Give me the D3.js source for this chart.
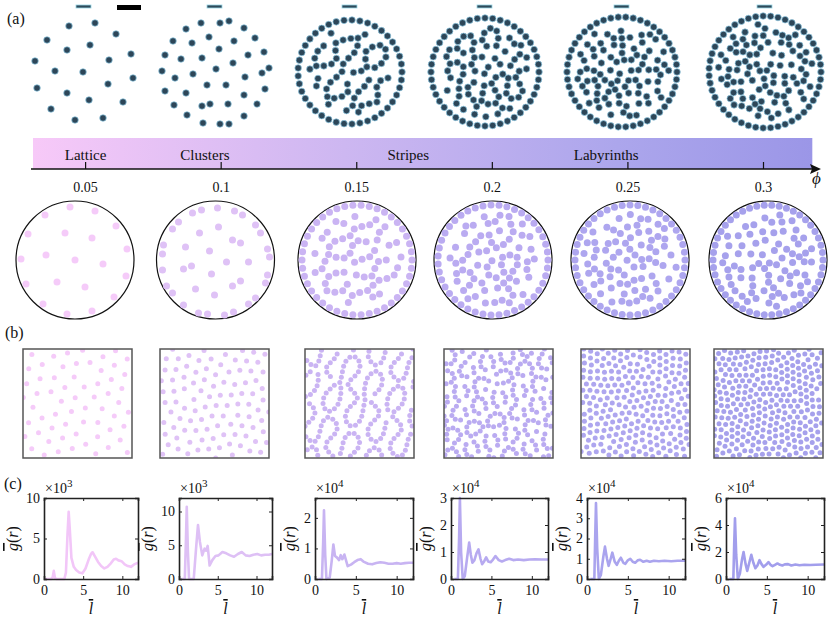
<!DOCTYPE html>
<html>
<head>
<meta charset="utf-8">
<script src="https://cdn.jsdelivr.net/npm/d3@7"></script>
<style>
  body { margin: 0; background: #fff; }
  text { font-family: "Liberation Serif", "DejaVu Serif", serif; fill: #111; }
</style>
</head>
<body>
<svg id="fig" width="831" height="625"></svg>
<script>
// ---- data ----
const phiValues = [0.05, 0.1, 0.15, 0.2, 0.25, 0.3];
const phiTickLabels = ["0.05", "0.1", "0.15", "0.2", "0.25", "0.3"];
const phaseNames = ["Lattice", "Clusters", "Stripes", "Labyrinths"];
const phasePhi = [0.05, 0.094, 0.169, 0.242];

// particle counts for the periodic boxes drawn as relaxed liquids (null = stripe texture)
const boxCounts = [62, 100, null, null, 245, 290];

// sparse snapshots (offsets from disc centre)
const expSparse = [
  [[-15,-46],[11,-49],[32,-38],[-37,-32],[-17,-22],[6,-27],[47,-18],[-49,-11],[25,-12],[-29,-1],
   [-1,0],[49,6],[-47,16],[-17,21],[24,12],[5,28],[39,30],[-33,37],[-9,48],[19,46]],
  [[-14,-49],[5,-49],[14,-51],[-29,-43],[29,-44],[-42,-31],[-23,-29],[-6,-35],[19,-31],[40,-34],
   [-50,-17],[-34,-13],[-13,-14],[4,-23],[33,-17],[49,-20],[-53,-1],[-40,6],[-22,2],[1,-3],
   [18,-9],[30,5],[47,1],[54,-4],[-50,19],[-29,21],[-8,13],[11,13],[50,17],[-41,33],
   [-13,34],[-5,32],[13,32],[29,23],[42,32],[-28,43],[-12,51],[5,52],[14,52],[29,44]]
];
const simSparse = [
  [[-5,-53],[20,-49],[-30,-45],[41,-34],[-47,-26],[-10,-27],[17,-22],[52,-11],[-54,-1],[-29,-5],
   [0,0],[28,4],[51,16],[-49,24],[-18,22],[10,27],[39,37],[-32,44],[-8,54],[17,51]],
  [[-23,-47],[-14,-50],[2,-52],[19,-49],[27,-45],[-37,-38],[-43,-31],[-16,-27],[3,-33],[40,-35],
   [45,-27],[17,-20],[25,-17],[-52,-15],[-30,-13],[-6,-9],[52,-11],[-53,-6],[54,-3],[11,2],
   [33,2],[-53,10],[-32,9],[-24,6],[-4,14],[52,15],[25,21],[17,26],[-49,26],[50,23],
   [-43,33],[-20,29],[-1,35],[40,38],[-32,45],[33,44],[-17,53],[-8,54],[9,55],[18,52]]
];

// stripe / labyrinth texture settings for the denser snapshots:
// wall ring radius, inner radius, stripe separation, spacing along a chain, waves [amp, angle, phase]
const expPattern = [null, null,
  { ring: 52, inner: 44, sep: 14, step: 7.9, waves: [[1, 35, 0.4], [0.7, 105, 1.9], [0.4, 160, 3.1]] },
  { ring: 54, inner: 46, sep: 11.5, step: 7.7, waves: [[1, 15, 1.0], [1, 75, 2.4], [0.9, 140, 0.3], [0.6, 170, 4.0]] },
  { ring: 55, inner: 47, sep: 10, step: 7.5, waves: [[1, 5, 2.2], [1, 62, 0.7], [1, 118, 3.5], [0.7, 160, 1.2]] },
  { ring: 56, inner: 48, sep: 9, step: 7.4, waves: [[1, 25, 0.9], [1, 80, 2.8], [1, 135, 1.6], [0.8, 175, 5.0]] }
];
const simPattern = [null, null,
  { ring: 55, inner: 46.5, sep: 14, step: 8.1, waves: [[1, 60, 1.1], [0.7, 130, 2.6], [0.4, 10, 0.2]] },
  { ring: 55, inner: 46.5, sep: 11.5, step: 7.9, waves: [[1, 100, 0.2], [1, 40, 2.0], [0.9, 160, 3.3], [0.5, 10, 1.4]] },
  { ring: 55, inner: 47, sep: 10, step: 7.7, waves: [[1, 20, 3.0], [1, 85, 1.2], [1, 145, 0.5], [0.7, 55, 2.2]] },
  { ring: 55, inner: 47, sep: 9, step: 7.5, waves: [[1, 0, 0.6], [1, 55, 2.3], [1, 115, 4.1], [0.8, 150, 1.0]] }
];
const boxPattern = [null, null,
  { sep: 12.5, step: 5.6, waves: [[1, 10, 0.5], [0.75, 55, 1.7], [0.5, 125, 2.9]] },
  { sep: 9.5, step: 5.4, waves: [[1, 10, 1.3], [1, 70, 0.2], [0.9, 130, 2.5], [0.6, 165, 3.8]] },
  null, null
];

// pair correlation curves, panel (c)
const grR = [
  [0,0.9,1.1,1.25,1.4,1.6,2.6,2.8,3.0,3.15,3.3,3.5,3.8,4.1,4.5,4.9,5.3,5.7,6.0,6.2,6.5,6.9,7.3,7.7,8.1,8.5,8.9,9.2,9.5,9.9,10.3,10.7,11.1,11.5,12],
  [0.3,0.75,0.9,1.0,1.15,1.3,1.9,2.2,2.45,2.7,3.0,3.3,3.5,3.7,3.95,4.3,4.7,5.1,5.6,6.1,6.6,7.1,7.6,8.1,8.6,9.1,9.6,10.1,10.6,11.1,11.6,12],
  [0.4,0.85,1.0,1.1,1.25,1.4,1.8,2.05,2.25,2.45,2.7,2.95,3.15,3.35,3.6,4.0,4.4,4.8,5.2,5.6,6.0,6.5,7.0,7.5,8.0,8.5,9.0,9.5,10,10.5,11,11.5,12],
  [0.4,0.85,1.0,1.1,1.25,1.45,1.7,2.0,2.25,2.45,2.65,2.9,3.15,3.4,3.65,3.85,4.1,4.35,4.6,4.9,5.2,5.5,5.9,6.3,6.7,7.2,7.7,8.3,9,9.7,10.4,11.2,12],
  [0.4,0.9,1.0,1.1,1.25,1.45,1.7,2.0,2.2,2.45,2.65,2.9,3.1,3.4,3.65,3.9,4.15,4.45,4.7,5.0,5.3,5.6,5.9,6.2,6.5,6.9,7.3,7.7,8.2,8.8,9.5,10.3,11.1,12],
  [0.4,0.9,1.0,1.1,1.25,1.45,1.7,1.95,2.15,2.4,2.6,2.85,3.1,3.35,3.6,3.85,4.1,4.35,4.6,4.9,5.2,5.45,5.7,6.0,6.3,6.6,6.9,7.2,7.6,8.0,8.5,9.0,9.6,10.3,11,12]
];
const grVal = [
  [0,0,0.2,1.0,0.1,0,0,0.8,5.5,8.3,6.0,2.6,1.5,1.1,0.8,0.7,1.3,2.4,3.1,3.3,2.8,2.1,1.6,1.3,1.5,1.9,2.4,2.5,2.3,2.2,1.8,1.6,1.5,1.8,2.0],
  [0,0,6,10.7,4,0,0,4.5,8.0,5.5,3.5,4.5,4.2,4.9,2.0,2.8,3.4,3.5,4.0,3.8,3.5,3.3,3.7,4.0,3.5,3.4,3.6,3.7,3.5,3.6,3.6,3.7],
  [0,0,1.2,2.25,0.8,0,0.05,0.6,1.13,0.75,0.7,0.62,0.78,0.65,0.8,0.42,0.47,0.55,0.62,0.65,0.56,0.5,0.48,0.52,0.55,0.53,0.5,0.5,0.52,0.5,0.52,0.53,0.53],
  [0,0,1.5,3.0,1.0,0,0.1,0.8,1.35,0.9,0.6,0.7,0.95,1.1,0.75,0.55,0.65,0.8,0.65,0.62,0.72,0.85,0.7,0.65,0.7,0.75,0.7,0.72,0.7,0.72,0.73,0.72,0.72],
  [0,0,2,3.75,1.5,0,0.2,1.1,1.6,1.0,0.65,1.0,1.3,0.85,0.7,0.9,1.05,0.8,0.75,0.92,1.0,0.85,0.8,0.92,0.95,0.85,0.9,0.85,0.9,0.88,0.9,0.88,0.9,0.9],
  [0,0,2.5,4.5,1.8,0,0.4,1.4,2.0,1.1,0.6,1.2,1.8,1.2,0.8,1.0,1.4,1.1,0.9,1.05,1.25,1.05,0.95,1.05,1.15,1.05,1.0,1.08,1.1,1.0,1.07,1.02,1.06,1.04,1.05,1.07]
];
const grExponent = ["3", "3", "4", "4", "4", "4"];
const grYMax = [10, 12, 2.65, 3, 4, 6];
const grYTicks = [[0,5,10],[0,5,10],[0,1,2],[0,1,2,3],[0,1,2,3,4],[0,2,4,6]];
const grXTicks = [0, 5, 10];

// ---- layout / style ----
const expCx = [84, 215, 350, 485, 622, 765], expCy = 72;
const simCx = [75, 215.5, 357, 493, 630, 768], simCy = 260, simRing = 59;
const boxLeft = [23, 160, 305, 444, 581, 714], boxTop = 349, boxSize = 109;
const plotLeft = [44, 179, 315, 451, 587, 726], plotRight = [138, 272, 413, 548, 685, 824];
const plotTop = 498, plotBottom = 579;
const panelColors = ["#f5cbf9", "#dfc2f6", "#cab4f3", "#baabf1", "#aea6ef", "#a6a1ec"];
const lineColors = ["#f2c6f8", "#dec0f5", "#c8b4f2", "#b7aaf0", "#aaa4ee", "#a29eec"];

const svg = d3.select("#fig");

// ---- texture helpers ----
function halton(i, b) {
  let f = 1, r = 0;
  while (i > 0) { f /= b; r += f * (i % b); i = Math.floor(i / b); }
  return r;
}

// periodic box: soft-core relaxation from a Halton start
function relaxBox(n, L) {
  const pts = d3.range(n).map(i => [L * halton(i + 1, 2), L * halton(i + 1, 3)]);
  const s = Math.sqrt(2 * L * L / (Math.sqrt(3) * n)) * 0.97;
  const wrap = v => v - L * Math.round(v / L);
  for (let it = 0; it < 90; it++) {
    for (let i = 0; i < n; i++) for (let j = i + 1; j < n; j++) {
      const dx = wrap(pts[j][0] - pts[i][0]), dy = wrap(pts[j][1] - pts[i][1]);
      const d = Math.hypot(dx, dy);
      if (d < s && d > 1e-6) {
        const m = 0.25 * (s - d) / d;
        pts[i][0] -= dx * m; pts[i][1] -= dy * m;
        pts[j][0] += dx * m; pts[j][1] += dy * m;
      }
    }
    pts.forEach(p => { p[0] = ((p[0] % L) + L) % L; p[1] = ((p[1] % L) + L) % L; });
  }
  return pts;
}

// particles strung along the zero lines of a wave field (d3.contours)
function stripePoints(cfg, lo, hi, keep, seed, minD) {
  const n = 120, span = hi - lo, k = Math.PI / cfg.sep;
  const values = new Float64Array(n * n);
  for (let j = 0; j < n; j++) for (let i = 0; i < n; i++) {
    const x = lo + span * i / (n - 1), y = lo + span * j / (n - 1);
    let v = 0;
    cfg.waves.forEach(w => {
      const a = w[1] * Math.PI / 180;
      v += w[0] * Math.cos(k * (x * Math.cos(a) + y * Math.sin(a)) + w[2]);
    });
    values[j * n + i] = v;
  }
  const cont = d3.contours().size([n, n]).thresholds([0])(values)[0];
  const g2d = g => lo + span * (g - 0.5) / (n - 1);
  const out = seed.slice();
  const fits = p => keep(p) && out.every(q => Math.hypot(p[0] - q[0], p[1] - q[1]) >= minD);
  cont.coordinates.forEach(poly => poly.forEach(ring => {
    const pts = ring.map(c => [g2d(c[0]), g2d(c[1])]);
    let acc = cfg.step / 2;
    for (let i = 1; i < pts.length; i++) {
      const a = pts[i - 1], b = pts[i];
      const len = Math.hypot(b[0] - a[0], b[1] - a[1]);
      let t = cfg.step - acc;
      while (t <= len) {
        const p = [a[0] + (b[0] - a[0]) * t / len, a[1] + (b[1] - a[1]) * t / len];
        if (fits(p)) out.push(p);
        t += cfg.step;
      }
      acc = (acc + len) % cfg.step;
    }
  }));
  return out;
}

function discPattern(cfg, dia) {
  const nRing = Math.floor(2 * Math.PI * cfg.ring / cfg.step);
  const ring = d3.range(nRing).map(i => {
    const t = 2 * Math.PI * i / nRing;
    return [cfg.ring * Math.cos(t), cfg.ring * Math.sin(t)];
  });
  return stripePoints(cfg, -cfg.inner, cfg.inner,
    p => Math.hypot(p[0], p[1]) <= cfg.inner, ring, dia * 1.02);
}

function boxPatternPoints(cfg, dia) {
  return stripePoints(cfg, 0, boxSize,
    p => p[0] >= 0 && p[0] <= boxSize && p[1] >= 0 && p[1] <= boxSize, [], dia * 1.02);
}

// ---- (a) experiment snapshots ----
svg.append("text").attr("x", 7).attr("y", 24).style("font-size", "16px").text("(a)");
svg.append("rect").attr("x", 117).attr("y", 5).attr("width", 24).attr("height", 5).attr("fill", "#000");

phiValues.forEach((phi, k) => {
  const pts = k < 2 ? expSparse[k] : discPattern(expPattern[k], 6.6);
  const x = d3.scaleLinear().domain([-60, 60]).range([expCx[k] - 60, expCx[k] + 60]);
  const y = d3.scaleLinear().domain([-60, 60]).range([expCy - 60, expCy + 60]);
  const g = svg.append("g");
  g.append("rect").attr("x", expCx[k] - 8).attr("y", 5).attr("width", 15).attr("height", 3)
    .attr("fill", "#2e4a5a").attr("stroke", "#9ad6e6").attr("stroke-width", 0.8);
  g.selectAll("circle").data(pts).join("circle")
    .attr("cx", d => x(d[0])).attr("cy", d => y(d[1])).attr("r", 3.3)
    .attr("fill", "#2d4658").attr("stroke", "#8fcbe6").attr("stroke-width", 0.7);
});

// ---- phase bar & phi axis ----
const phiX = d3.scaleLinear().domain([0.05, 0.3]).range([85.6, 763.5]);
const defs = svg.append("defs");
const grad = defs.append("linearGradient").attr("id", "phaseGrad");
[["0%", "#f7c9f8"], ["40%", "#cdb7f1"], ["75%", "#aca6ec"], ["100%", "#9b96e7"]].forEach(s =>
  grad.append("stop").attr("offset", s[0]).attr("stop-color", s[1]));
svg.append("rect").attr("x", phiX(0.0306)).attr("y", 138)
  .attr("width", phiX(0.318) - phiX(0.0306)).attr("height", 31).attr("fill", "url(#phaseGrad)");

phaseNames.forEach((name, i) => {
  svg.append("text").attr("x", phiX(phasePhi[i])).attr("y", 160)
    .attr("text-anchor", "middle").style("font-size", "15px").text(name);
});

const axisY = 169;
svg.append("line").attr("x1", 31).attr("x2", 814).attr("y1", axisY).attr("y2", axisY)
  .attr("stroke", "#111").attr("stroke-width", 1.5);
svg.append("path").attr("d", `M821,${axisY} L810,${axisY - 5} L812,${axisY} L810,${axisY + 5} Z`).attr("fill", "#111");
phiValues.forEach((phi, i) => {
  svg.append("line").attr("x1", phiX(phi)).attr("x2", phiX(phi)).attr("y1", axisY).attr("y2", axisY - 7)
    .attr("stroke", "#111").attr("stroke-width", 1.2);
  svg.append("text").attr("x", phiX(phi)).attr("y", 192).attr("text-anchor", "middle")
    .style("font-size", "14px").text(phiTickLabels[i]);
});
svg.append("text").attr("x", 812).attr("y", 184).style("font-size", "17px").style("font-style", "italic").text("ϕ");

// ---- (a) simulation discs ----
phiValues.forEach((phi, k) => {
  const pts = k < 2 ? simSparse[k] : discPattern(simPattern[k], 7);
  const x = d3.scaleLinear().domain([-60, 60]).range([simCx[k] - 60, simCx[k] + 60]);
  const y = d3.scaleLinear().domain([-60, 60]).range([simCy - 60, simCy + 60]);
  const g = svg.append("g");
  g.append("circle").attr("cx", simCx[k]).attr("cy", simCy).attr("r", simRing)
    .attr("fill", "none").attr("stroke", "#111").attr("stroke-width", 1.2);
  g.selectAll("circle.p").data(pts).join("circle").attr("class", "p")
    .attr("cx", d => x(d[0])).attr("cy", d => y(d[1])).attr("r", 3.5)
    .attr("fill", panelColors[k]);
});

// ---- (b) periodic boxes ----
svg.append("text").attr("x", 5).attr("y", 338).style("font-size", "16px").text("(b)");
phiValues.forEach((phi, k) => {
  const pts = boxCounts[k] ? relaxBox(boxCounts[k], boxSize) : boxPatternPoints(boxPattern[k], 4.9);
  const x = d3.scaleLinear().domain([0, boxSize]).range([boxLeft[k], boxLeft[k] + boxSize]);
  const y = d3.scaleLinear().domain([0, boxSize]).range([boxTop, boxTop + boxSize]);
  defs.append("clipPath").attr("id", "clip" + k).append("rect")
    .attr("x", boxLeft[k]).attr("y", boxTop).attr("width", boxSize).attr("height", boxSize);
  const g = svg.append("g");
  g.append("g").attr("clip-path", `url(#clip${k})`).selectAll("circle").data(pts).join("circle")
    .attr("cx", d => x(d[0])).attr("cy", d => y(d[1])).attr("r", 2.5)
    .attr("fill", panelColors[k]);
  g.append("rect").attr("x", boxLeft[k]).attr("y", boxTop).attr("width", boxSize).attr("height", boxSize)
    .attr("fill", "none").attr("stroke", "#555").attr("stroke-width", 1.5);
});

// ---- (c) pair correlation ----
svg.append("text").attr("x", 4).attr("y", 489).style("font-size", "16px").text("(c)");
phiValues.forEach((phi, k) => {
  const x = d3.scaleLinear().domain([0, 12]).range([plotLeft[k], plotRight[k]]);
  const y = d3.scaleLinear().domain([0, grYMax[k]]).range([plotBottom, plotTop]);
  const g = svg.append("g");
  const line = d3.line().x((d, i) => x(grR[k][i])).y(d => y(d));
  g.append("path").datum(grVal[k]).attr("d", line).attr("fill", "none")
    .attr("stroke", lineColors[k]).attr("stroke-width", 2.6).attr("stroke-linejoin", "round");

  const tk = 3;
  g.append("g").attr("transform", `translate(0,${plotBottom})`)
    .call(d3.axisBottom(x).tickValues(grXTicks).tickSize(-tk).tickPadding(6).tickFormat(d3.format("d")));
  g.append("g").attr("transform", `translate(0,${plotTop})`)
    .call(d3.axisTop(x).tickValues(grXTicks).tickSize(-tk).tickFormat(""));
  g.append("g").attr("transform", `translate(${plotLeft[k]},0)`)
    .call(d3.axisLeft(y).tickValues(grYTicks[k]).tickSize(-tk).tickPadding(4).tickFormat(d3.format("d")));
  g.append("g").attr("transform", `translate(${plotRight[k]},0)`)
    .call(d3.axisRight(y).tickValues(grYTicks[k]).tickSize(-tk).tickFormat(""));
  g.selectAll(".domain").attr("stroke", "#222").attr("stroke-width", 1.6);
  g.selectAll(".tick line").attr("stroke", "#222");
  g.selectAll(".tick text").style("font-family", "Liberation Serif, serif").style("font-size", "14px").attr("fill", "#222");

  const ex = g.append("text").attr("x", plotLeft[k] + 1).attr("y", plotTop - 5).style("font-size", "14px");
  ex.append("tspan").text("×10");
  ex.append("tspan").attr("dy", -6).style("font-size", "11px").text(grExponent[k]);

  const yl = plotLeft[k] - (grYMax[k] >= 10 ? 26 : 20);
  const lab = g.append("text").attr("transform", `translate(${yl},${(plotTop + plotBottom) / 2}) rotate(-90)`)
    .attr("text-anchor", "middle").style("font-size", "16px");
  lab.append("tspan").style("font-style", "italic").style("text-decoration", "overline").text("g");
  lab.append("tspan").text("(");
  lab.append("tspan").style("font-style", "italic").text("r");
  lab.append("tspan").text(")");

  g.append("text").attr("x", (plotLeft[k] + plotRight[k]) / 2).attr("y", 614)
    .attr("text-anchor", "middle").style("font-size", "16px").style("font-style", "italic")
    .style("text-decoration", "overline").text("l");
});
</script>
</body>
</html>
